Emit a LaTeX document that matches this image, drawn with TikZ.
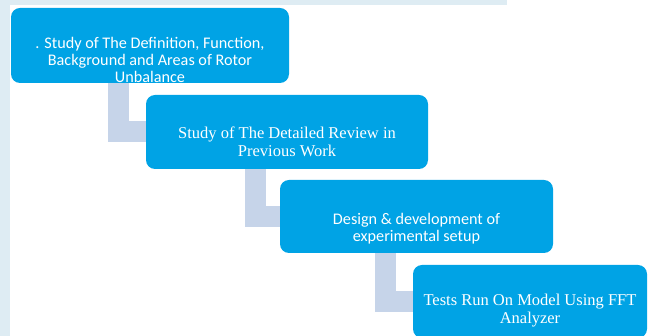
\documentclass[tikz,border=0pt]{standalone}
\usepackage{fontspec}
\newfontfamily\stepsans{Carlito}
\newfontfamily\stepserif{Liberation Serif}
\usetikzlibrary{positioning, calc}
\definecolor{stepblue}{RGB}{0,163,229}
\definecolor{linkgrey}{RGB}{198,212,233}
\definecolor{edgetint}{RGB}{222,236,243}

\begin{document}
\begin{tikzpicture}[x=1pt, y=-1pt,
    stepbox/.style={rectangle, fill=stepblue, rounded corners=9pt, inner sep=0pt},
    steptext/.style={align=center, text=white, inner sep=0pt},
    sans/.style={steptext, font=\stepsans\fontsize{16.2}{17}\selectfont},
    serif/.style={steptext, font=\stepserif\fontsize{16.5}{17.5}\selectfont},
    link/.style={line width=21pt, draw=linkgrey, line cap=butt}
]
\useasboundingbox (0,0) rectangle (649,336);

% Background tint
\fill[edgetint] (0,0) rectangle (507,5);
\fill[edgetint] (0,0) rectangle (10,336);

% Main steps
\node[stepbox, minimum width=278pt, minimum height=75pt] (step1) at (150,45.5) {};
\node[stepbox, minimum width=282pt, minimum height=74pt] (step2) at (287,132) {};
\node[stepbox, minimum width=273pt, minimum height=73pt] (step3) at (416.5,216.5) {};
\node[stepbox, minimum width=234pt, minimum height=73pt] (step4) at (530,301.5) {};

% Step texts
\node[sans] (text1) at ([yshift=-14.5pt]step1.center) {. Study of The Definition, Function,\\Background and Areas of Rotor\\Unbalance};
\node[serif] (text2) at ([yshift=-10pt]step2.center) {Study of The Detailed Review in\\Previous Work};
\node[sans] (text3) at ([yshift=-12.5pt]step3.center) {Design \& development of\\experimental setup};
\node[serif] (text4) at ([yshift=-9pt]step4.center) {Tests Run On Model Using FFT\\Analyzer};

% Connectors
\draw[link] ([xshift=-31.5pt]step1.south) |- (step2.west);
\draw[link] ([xshift=-31.5pt]step2.south) |- (step3.west);
\draw[link] ([xshift=-31pt]step3.south) |- (step4.west);

\end{tikzpicture}
\end{document}
